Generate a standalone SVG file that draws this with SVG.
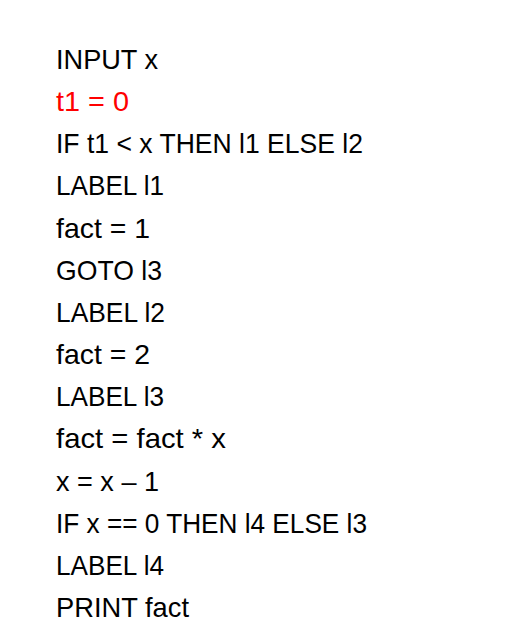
<svg xmlns="http://www.w3.org/2000/svg" width="523" height="631" viewBox="0 0 523 631">
<style>
text{font-family:"Liberation Sans",Arial,sans-serif;font-size:28px;fill:#000}
.red{fill:#FF0000}
</style>
<rect width="523" height="631" fill="#fff"/>
<g id="code">
<text id="l1" x="56" y="69" textLength="102" lengthAdjust="spacingAndGlyphs">INPUT x</text>
<text id="l2" class="red" x="56" y="111" textLength="73" lengthAdjust="spacingAndGlyphs">t1 = 0</text>
<text id="l3" x="56" y="153" textLength="307" lengthAdjust="spacingAndGlyphs">IF t1 &lt; x THEN l1 ELSE l2</text>
<text id="l4" x="56" y="195" textLength="108" lengthAdjust="spacingAndGlyphs">LABEL l1</text>
<text id="l5" x="56" y="238" textLength="94" lengthAdjust="spacingAndGlyphs">fact = 1</text>
<text id="l6" x="56" y="280" textLength="106" lengthAdjust="spacingAndGlyphs">GOTO l3</text>
<text id="l7" x="56" y="322" textLength="109" lengthAdjust="spacingAndGlyphs">LABEL l2</text>
<text id="l8" x="56" y="364" textLength="94" lengthAdjust="spacingAndGlyphs">fact = 2</text>
<text id="l9" x="56" y="406" textLength="108" lengthAdjust="spacingAndGlyphs">LABEL l3</text>
<text id="l10" x="56" y="448" textLength="170" lengthAdjust="spacingAndGlyphs">fact = fact * x</text>
<text id="l11" x="56" y="491" textLength="103" lengthAdjust="spacingAndGlyphs">x = x – 1</text>
<text id="l12" x="56" y="533" textLength="311" lengthAdjust="spacingAndGlyphs">IF x == 0 THEN l4 ELSE l3</text>
<text id="l13" x="56" y="575" textLength="108" lengthAdjust="spacingAndGlyphs">LABEL l4</text>
<text id="l14" x="56" y="617" textLength="133" lengthAdjust="spacingAndGlyphs">PRINT fact</text>
</g>
</svg>
